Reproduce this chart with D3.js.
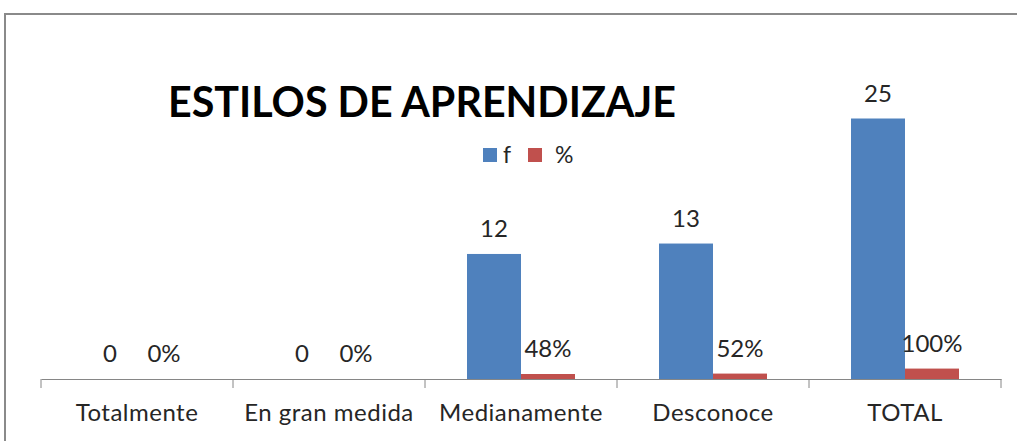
<!DOCTYPE html>
<html><head><meta charset="utf-8">
<script src="https://cdn.jsdelivr.net/npm/d3@7"></script>
<style>html,body{margin:0;padding:0;background:#fff;overflow:hidden}</style>
</head><body>
<svg id="c" width="1017" height="441"></svg>
<script>
const categories = ["Totalmente", "En gran medida", "Medianamente", "Desconoce", "TOTAL"];
const seriesNames = ["f", "%"];
const fValues = [0, 0, 12, 13, 25];
const pctValues = [0, 0, 0.48, 0.52, 1.00];
const pctLabels = ["0%", "0%", "48%", "52%", "100%"];
const colors = {"f": "#4F81BD", "%": "#C0504D"};
const title = "ESTILOS DE APRENDIZAJE";

const svg = d3.select("#c");
const font = "Lato, 'Open Sans', sans-serif";
const textColor = "#262626";

// chart border (extends beyond view)
svg.append("rect").attr("x", 5).attr("y", 14).attr("width", 1100).attr("height", 500)
  .attr("fill", "none").attr("stroke", "#8a8a8a").attr("stroke-width", 2);

const x0 = d3.scaleBand().domain(categories).range([41, 1001]).paddingInner(0).paddingOuter(0);
const x1 = d3.scaleBand().domain(seriesNames).range([0, x0.bandwidth()]).paddingInner(0).paddingOuter(0.778);
const y = d3.scaleLinear().domain([0, 30]).range([379, 66.4]);

const rows = categories.map((c, i) => ({cat: c, vals: [
  {s: "f", v: fValues[i], label: String(fValues[i])},
  {s: "%", v: pctValues[i], label: pctLabels[i]}
]}));

const g = svg.append("g");
const grp = g.selectAll("g.cat").data(rows).join("g").attr("class", "cat")
  .attr("transform", d => `translate(${x0(d.cat)},0)`);

grp.selectAll("rect").data(d => d.vals).join("rect")
  .attr("x", d => x1(d.s)).attr("width", x1.bandwidth())
  .attr("y", d => y(d.v)).attr("height", d => y(0) - y(d.v))
  .attr("fill", d => colors[d.s]);

grp.selectAll("text").data(d => d.vals).join("text")
  .attr("x", d => x1(d.s) + x1.bandwidth() / 2)
  .attr("y", d => y(d.v) - 17)
  .attr("text-anchor", "middle")
  .attr("font-family", font).attr("font-size", 24).attr("fill", textColor)
  .text(d => d.label);

// x axis
const axis = d3.axisBottom(x0).tickSize(0).tickSizeOuter(0).tickPadding(0);
const ax = svg.append("g").attr("transform", `translate(0,${y(0)})`).call(axis);
ax.select(".domain").attr("stroke", "#868686").attr("stroke-width", 1);
ax.selectAll(".tick text").attr("font-family", font).attr("font-size", 24)
  .attr("letter-spacing", "0.5px")
  .attr("fill", textColor).attr("dy", null).attr("y", 42);
// tick marks at band boundaries
const bounds = categories.map(c => x0(c)).concat([x0.range()[1]]);
ax.selectAll("line.bt").data(bounds).join("line").attr("class", "bt")
  .attr("x1", d => d).attr("x2", d => d).attr("y1", 0).attr("y2", 9)
  .attr("stroke", "#868686").attr("stroke-width", 1);

// title
const t = svg.append("text").attr("x", 168).attr("y", 117)
  .attr("font-family", font).attr("font-weight", "bold").attr("font-size", 48)
  .attr("fill", "#000").text(title);
const w = t.node().getComputedTextLength();
t.attr("font-size", 48 * 508 / w);

// legend
const leg = svg.append("g").attr("transform", "translate(483,148)");
const li = leg.selectAll("g").data(seriesNames).join("g")
  .attr("transform", (d, i) => `translate(${i * 45},0)`);
li.append("rect").attr("width", 14).attr("height", 14).attr("fill", d => colors[d]);
li.append("text").attr("x", d => d === "f" ? 20 : 27).attr("y", 15)
  .attr("font-family", font).attr("font-size", 23).attr("fill", textColor).text(d => d);
</script>
</body></html>
